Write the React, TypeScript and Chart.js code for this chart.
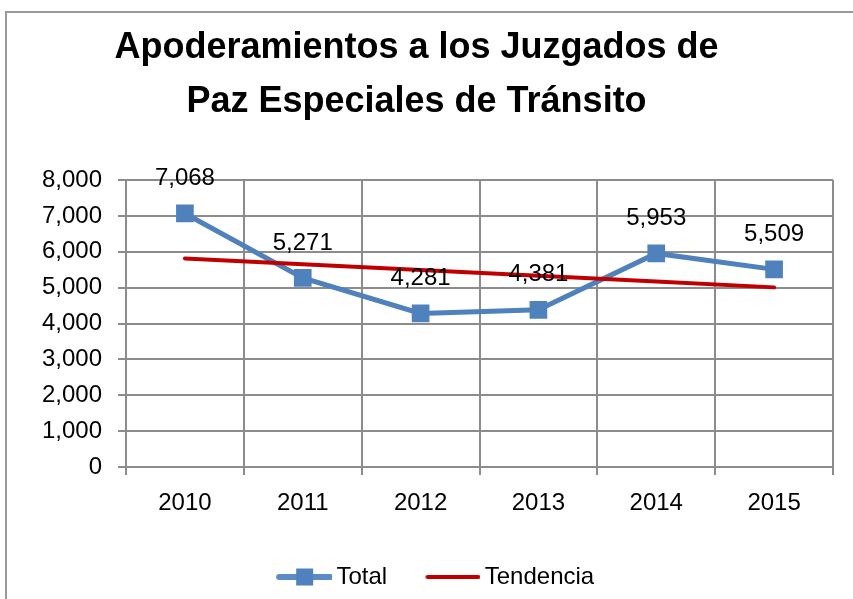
import React, { useEffect, useRef } from 'react';
import { Chart, registerables } from 'chart.js';

Chart.register(...registerables);

const titleLines = ['Apoderamientos a los Juzgados de', 'Paz Especiales de Tránsito'];
const years = ['2010', '2011', '2012', '2013', '2014', '2015'];
const totalValues = [7068, 5271, 4281, 4381, 5953, 5509];
const trendValues = [5814, 5653, 5491, 5330, 5168, 5007];
const seriesNames = ['Total', 'Tendencia'];
const yMin = 0;
const yMax = 8000;
const yStep = 1000;

const BLUE = '#4F81BD';
const RED = '#C00000';
const GRID = '#8c8c8c';
const FONT = "'Liberation Sans', Arial, sans-serif";

const fmt = (v: number) => v.toLocaleString('en-US');

function makeIcon(kind: 'total' | 'trend'): HTMLCanvasElement {
  const c = document.createElement('canvas');
  c.width = 101;
  c.height = 20;
  const ctx = c.getContext('2d')!;
  ctx.lineCap = 'round';
  if (kind === 'total') {
    ctx.strokeStyle = '#5b8bc6';
    ctx.lineWidth = 6;
    ctx.beginPath();
    ctx.moveTo(48, 10);
    ctx.lineTo(99, 10);
    ctx.stroke();
    ctx.fillStyle = BLUE;
    ctx.fillRect(73.5 - 8.5, 10 - 8.5, 17, 17);
  } else {
    ctx.strokeStyle = RED;
    ctx.lineWidth = 4;
    ctx.beginPath();
    ctx.moveTo(48, 10);
    ctx.lineTo(99, 10);
    ctx.stroke();
  }
  return c;
}

const dataLabelPlugin = {
  id: 'dataLabels',
  afterDatasetsDraw(chart: any) {
    const meta = chart.getDatasetMeta(0);
    const ctx = chart.ctx;
    ctx.save();
    ctx.font = `24px ${FONT}`;
    ctx.fillStyle = '#000';
    ctx.textAlign = 'center';
    ctx.textBaseline = 'middle';
    meta.data.forEach((pt: any, i: number) => {
      ctx.fillText(fmt(totalValues[i]), pt.x, pt.y - 35);
    });
    ctx.restore();
  },
};

export default function App() {
  const ref = useRef<HTMLCanvasElement>(null);
  useEffect(() => {
    document.body.style.margin = '0';
    const icons = [makeIcon('total'), makeIcon('trend')];
    const chart = new Chart(ref.current!, {
      type: 'line',
      data: {
        labels: years,
        datasets: [
          {
            label: seriesNames[0],
            data: totalValues,
            borderColor: BLUE,
            backgroundColor: BLUE,
            borderWidth: 5,
            pointStyle: 'rect',
            pointRadius: 12.5,
            pointBackgroundColor: BLUE,
            pointBorderWidth: 0,
            tension: 0,
            order: 1,
          },
          {
            label: seriesNames[1],
            data: trendValues,
            borderColor: RED,
            backgroundColor: RED,
            borderWidth: 4,
            pointRadius: 0,
            borderCapStyle: 'round',
            tension: 0,
            order: 0,
          },
        ],
      },
      options: {
        responsive: false,
        animation: false,
        devicePixelRatio: 1,
        layout: { padding: { left: 0, right: 20, top: 0, bottom: 0 } },
        plugins: {
          tooltip: { enabled: false },
          title: {
            display: true,
            text: titleLines,
            color: '#000',
            font: { family: FONT, size: 36, weight: 'bold', lineHeight: 1.5 },
            padding: { top: 21, bottom: 51 },
          },
          legend: {
            display: true,
            position: 'bottom',
            labels: {
              usePointStyle: true,
              pointStyleWidth: 85.6,
              padding: 0,
              color: '#000',
              font: { family: FONT, size: 24 },
              generateLabels: (ch: any) => {
                const items = Chart.defaults.plugins.legend.labels.generateLabels(ch);
                items.sort((a: any, b: any) => a.datasetIndex - b.datasetIndex);
                items.forEach((it: any) => {
                  it.pointStyle = icons[it.datasetIndex];
                });
                return items;
              },
            },
          },
        },
        scales: {
          x: {
            offset: true,
            grid: { color: GRID, lineWidth: 2, tickLength: 8, offset: true },
            border: { color: GRID, width: 2 },
            ticks: { color: '#000', font: { family: FONT, size: 24 }, padding: 14, maxRotation: 0 },
            afterFit: (s: any) => { s.height = 98; },
          },
          y: {
            min: yMin,
            max: yMax,
            grid: { color: GRID, lineWidth: 2, tickLength: 8 },
            border: { color: GRID, width: 2 },
            ticks: {
              stepSize: yStep,
              color: '#000',
              font: { family: FONT, size: 24 },
              padding: 16,
              callback: (v: any) => fmt(Number(v)),
            },
            afterFit: (s: any) => { s.width = 126; },
          },
        },
      },
      plugins: [dataLabelPlugin],
    } as any);
    return () => chart.destroy();
  }, []);

  return (
    <div style={{ position: 'relative', width: 853, height: 599, overflow: 'hidden', background: '#fff' }}>
      <div
        style={{
          position: 'absolute',
          left: 5,
          top: 11,
          width: 1000,
          height: 1000,
          border: '2px solid #999',
          boxSizing: 'border-box',
        }}
      />
      <canvas ref={ref} width={853} height={599} style={{ position: 'absolute', left: 0, top: 0, width: 853, height: 599 }} />
    </div>
  );
}
